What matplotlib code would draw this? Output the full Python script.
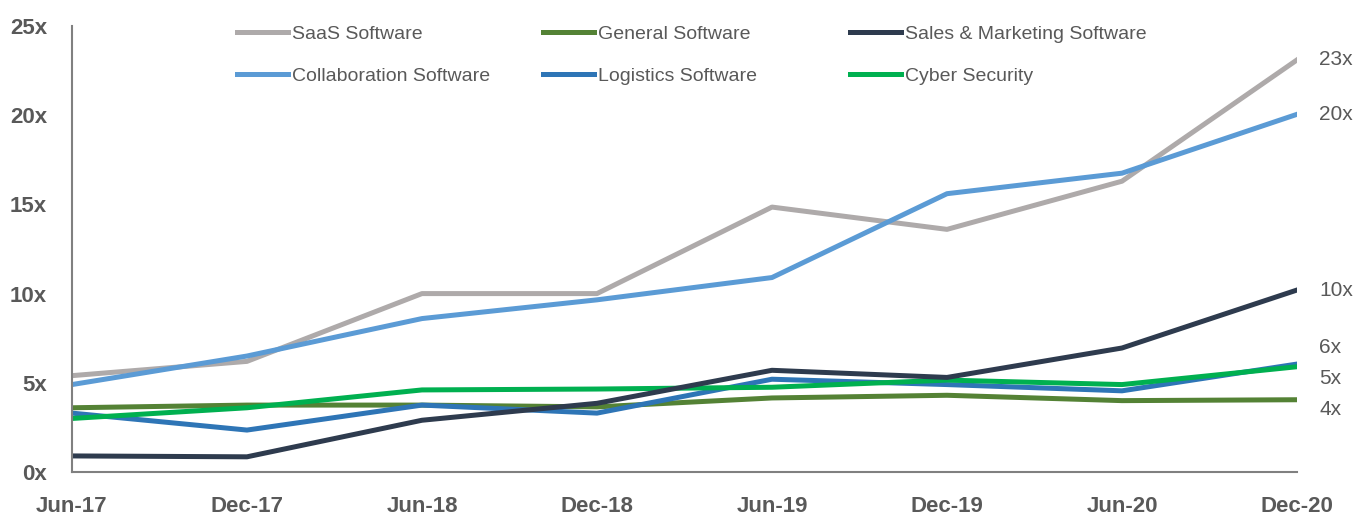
import matplotlib.pyplot as plt

plt.rcParams['font.family'] = ['Liberation Sans Narrow', 'Liberation Sans', 'DejaVu Sans']

dates = ["Jun-17", "Dec-17", "Jun-18", "Dec-18", "Jun-19", "Dec-19", "Jun-20", "Dec-20"]

saas = [5.4, 6.2, 10.0, 10.0, 14.85, 13.6, 16.3, 23.1]
collab = [4.9, 6.5, 8.6, 9.65, 10.9, 15.6, 16.75, 20.05]
general = [3.6, 3.75, 3.75, 3.65, 4.15, 4.3, 4.0, 4.05]
sales = [0.9, 0.85, 2.9, 3.85, 5.7, 5.3, 6.95, 10.2]
logistics = [3.3, 2.35, 3.75, 3.3, 5.2, 4.9, 4.55, 6.05]
cyber = [3.0, 3.6, 4.6, 4.65, 4.75, 5.15, 4.9, 5.9]

end_labels = ["23x", "20x", "10x", "6x", "5x", "4x"]
end_label_y = [23.1, 20.05, 10.2, 7.0, 5.25, 3.5]

text_color = "#595959"

fig = plt.figure(figsize=(13.55, 5.16), dpi=100)
ax = fig.add_axes([0.0531, 0.0853, 0.9041, 0.8643])

x = range(len(dates))
lw = 3.6
l1, = ax.plot(x, saas, color="#AEAAAA", lw=lw, label="SaaS Software")
l2, = ax.plot(x, collab, color="#5B9BD5", lw=lw, label="Collaboration Software")
l3, = ax.plot(x, general, color="#548235", lw=lw, label="General Software")
l5, = ax.plot(x, logistics, color="#2E75B6", lw=lw, label="Logistics Software")
l6, = ax.plot(x, cyber, color="#00B050", lw=lw, label="Cyber Security")
l4, = ax.plot(x, sales, color="#2E3B4E", lw=lw, label="Sales & Marketing Software")

ax.set_xlim(0, len(dates) - 1)
ax.set_ylim(0, 25)
ax.set_yticks([0, 5, 10, 15, 20, 25])
ax.set_yticklabels([f"{v}x" for v in [0, 5, 10, 15, 20, 25]])
ax.set_xticks(list(x))
ax.set_xticklabels(dates)
ax.tick_params(length=0, labelsize=16, labelcolor=text_color)
ax.tick_params(axis="y", pad=18)
ax.tick_params(axis="x", pad=17)
for lab in ax.get_xticklabels() + ax.get_yticklabels():
    lab.set_fontweight("bold")

for s in ["top", "right"]:
    ax.spines[s].set_visible(False)
for s in ["left", "bottom"]:
    ax.spines[s].set_color("#808080")
    ax.spines[s].set_linewidth(1.5)

for lab, yv in zip(end_labels, end_label_y):
    ax.annotate(lab, xy=(len(dates) - 1, yv), xytext=(16, 0), textcoords="offset points",
                va="center", ha="left", fontsize=15, color=text_color, annotation_clip=False)

# legend: three equal-width columns
columns = [[l1, l2], [l3, l5], [l4, l6]]
col_x = [237, 543, 850]
for handles, cx in zip(columns, col_x):
    leg = fig.legend(handles=handles, frameon=False, fontsize=14, labelcolor=text_color,
                     handlelength=2.6, handletextpad=0.25, labelspacing=1.25,
                     borderpad=0, borderaxespad=0, loc="upper left",
                     bbox_to_anchor=(cx / 1355, 1 - 25 / 516))

fig.savefig("out.png", dpi=100)
